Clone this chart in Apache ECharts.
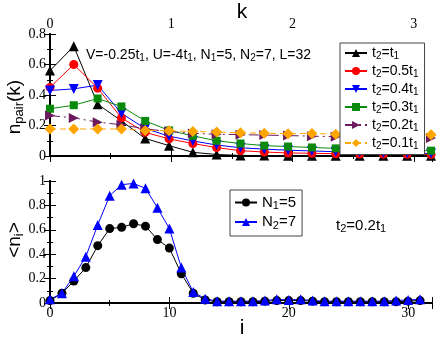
<!DOCTYPE html>
<html>
<head>
<meta charset="utf-8">
<script src="https://cdn.jsdelivr.net/npm/echarts@6/dist/echarts.min.js"></script>
<style>
html, body { margin: 0; padding: 0; background: #fff; }
#chart { width: 436px; height: 338px; }
</style>
</head>
<body>
<div id="chart"></div>
<script>
// k = 2*pi*n/L, L=32
var kPoints = [0, 0.196, 0.393, 0.589, 0.785, 0.982, 1.178, 1.374, 1.571, 1.767, 1.963, 2.160, 2.356, 2.553, 2.749, 2.945, 3.142];
var pairT1 = [0.56, 0.72, 0.34, 0.23, 0.115, 0.068, 0.024, 0.010, 0.004, 0.003, 0.002, 0.002, 0.002, 0.002, 0.002, 0.002, 0.002];
var pairT05 = [0.45, 0.60, 0.445, 0.25, 0.155, 0.112, 0.082, 0.055, 0.035, 0.026, 0.020, 0.018, 0.015, 0.013, 0.012, 0.011, 0.010];
var pairT04 = [0.43, 0.44, 0.465, 0.28, 0.18, 0.13, 0.099, 0.072, 0.054, 0.045, 0.038, 0.033, 0.028, 0.024, 0.020, 0.018, 0.016];
var pairT03 = [0.31, 0.333, 0.377, 0.325, 0.23, 0.168, 0.132, 0.100, 0.082, 0.068, 0.062, 0.056, 0.050, 0.045, 0.040, 0.037, 0.035];
var pairT02 = [0.265, 0.25, 0.222, 0.205, 0.178, 0.160, 0.148, 0.143, 0.140, 0.137, 0.134, 0.130, 0.127, 0.124, 0.122, 0.120, 0.118];
var pairT01 = [0.177, 0.177, 0.177, 0.177, 0.168, 0.165, 0.161, 0.157, 0.152, 0.150, 0.146, 0.148, 0.143, 0.143, 0.143, 0.143, 0.140];

var sites = [0, 1, 2, 3, 4, 5, 6, 7, 8, 9, 10, 11, 12, 13, 14, 15, 16, 17, 18, 19, 20, 21, 22, 23, 24, 25, 26, 27, 28, 29, 30, 31];
var densN1 = [0.02, 0.08, 0.18, 0.29, 0.47, 0.61, 0.62, 0.65, 0.63, 0.52, 0.45, 0.24, 0.08, 0.025, 0.01, 0.01, 0.01, 0.01, 0.015, 0.02, 0.02, 0.02, 0.015, 0.01, 0.01, 0.01, 0.01, 0.01, 0.01, 0.01, 0.015, 0.02];
var densN2 = [0.03, 0.08, 0.22, 0.38, 0.64, 0.88, 0.97, 0.98, 0.94, 0.78, 0.61, 0.29, 0.09, 0.035, 0.015, 0.015, 0.015, 0.015, 0.02, 0.03, 0.025, 0.03, 0.02, 0.015, 0.015, 0.015, 0.015, 0.015, 0.015, 0.02, 0.025, 0.03];

var topTicksK = [0, 1, 2, 3];
var siteTicks = [0, 10, 20, 30];

// "t[2]" -> t with subscript 2
function rt(s) {
    return s.split(/\[([^\]]*)\]/).map(function (p, i) {
        if (p === '') return '';
        return (i % 2 ? '{s|' : '{m|') + p + '}';
    }).join('');
}
function richStyle(size, sub, drop) {
    return {
        m: { fontSize: size, fontFamily: 'Liberation Sans', color: '#000' },
        s: { fontSize: sub, fontFamily: 'Liberation Sans', color: '#000', padding: [drop, 0, 0, 0] }
    };
}

function zip(xs, ys) {
    return ys.map(function (v, i) { return [xs[i], v]; });
}

function pairSeries(name, data, color, symbol, size, rot, dash) {
    return {
        name: name, type: 'line', xAxisIndex: 0, yAxisIndex: 0,
        data: zip(kPoints, data),
        symbol: symbol, symbolSize: size, symbolRotate: rot,
        itemStyle: { color: color },
        lineStyle: { color: color, width: 1, type: dash || 'solid' },
        animation: false
    };
}

function densSeries(name, data, color, symbol, size) {
    return {
        name: name, type: 'line', xAxisIndex: 2, yAxisIndex: 2,
        data: zip(sites, data),
        symbol: symbol, symbolSize: size,
        itemStyle: { color: color },
        lineStyle: { color: color, width: 1 },
        animation: false
    };
}

var axisLine = { show: true, lineStyle: { color: '#000', width: 2 } };
var tickStyle = { show: true, inside: true, length: 6, lineStyle: { color: '#000', width: 1 } };
var minorStyle = { show: true, splitNumber: 2, length: 3, lineStyle: { color: '#000', width: 1 } };

function xAx(grid, pos, max, interval, ticks, labels) {
    return {
        type: 'value', gridIndex: grid, position: pos, min: 0, max: max, interval: interval,
        axisLine: axisLine, axisTick: tickStyle, minorTick: minorStyle,
        splitLine: { show: false },
        axisLabel: {
            show: labels, margin: 3, showMaxLabel: false,
            fontFamily: 'Liberation Serif', fontSize: 14, color: '#000',
            formatter: function (v) { return ticks.indexOf(v) >= 0 ? String(v) : ''; }
        }
    };
}
function yAx(grid, pos, max, labels) {
    return {
        type: 'value', gridIndex: grid, position: pos, min: 0, max: max, interval: 0.2,
        axisLine: axisLine, axisTick: tickStyle, minorTick: minorStyle,
        splitLine: { show: false },
        axisLabel: {
            show: labels, margin: 4,
            fontFamily: 'Liberation Serif', fontSize: 14, color: '#000'
        }
    };
}

var legendNames = {
    't2=t1': rt('t[2]=t[1]'),
    't2=0.5t1': rt('t[2]=0.5t[1]'),
    't2=0.4t1': rt('t[2]=0.4t[1]'),
    't2=0.3t1': rt('t[2]=0.3t[1]'),
    't2=0.2t1': rt('t[2]=0.2t[1]'),
    't2=0.1t1': rt('t[2]=0.1t[1]'),
    'N1=5': rt('N[1]=5'),
    'N2=7': rt('N[2]=7')
};

var myChart = echarts.init(document.getElementById('chart'));
myChart.setOption({
    backgroundColor: '#fff',
    grid: [
        { left: 50, top: 34, width: 382, height: 122, outerBoundsMode: 'none', containLabel: false },
        { left: 50, top: 181, width: 382, height: 122, outerBoundsMode: 'none', containLabel: false }
    ],
    xAxis: [
        xAx(0, 'top', 3.15, 1, topTicksK, true),
        xAx(0, 'bottom', 3.15, 1, topTicksK, false),
        xAx(1, 'bottom', 32, 10, siteTicks, true),
        xAx(1, 'top', 32, 10, siteTicks, false)
    ],
    yAxis: [
        yAx(0, 'left', 0.8, true),
        yAx(0, 'right', 0.8, false),
        yAx(1, 'left', 1, true),
        yAx(1, 'right', 1, false)
    ],
    legend: [
        {
            data: ['t2=t1', 't2=0.5t1', 't2=0.4t1', 't2=0.3t1', 't2=0.2t1', 't2=0.1t1'],
            orient: 'vertical', left: 340, top: 43,
            itemWidth: 22, itemHeight: 10, itemGap: 2.5,
            padding: [3, 6, 3, 4],
            backgroundColor: '#fff', borderColor: '#444', borderWidth: 1, borderRadius: 0,
            formatter: function (n) { return legendNames[n]; },
            textStyle: { rich: richStyle(14, 10, 7) }
        },
        {
            data: ['N1=5', 'N2=7'],
            orient: 'vertical', left: 230, top: 190,
            itemWidth: 22, itemHeight: 10, itemGap: 3,
            padding: [5, 6, 5, 4],
            backgroundColor: '#fff', borderColor: '#444', borderWidth: 1, borderRadius: 0,
            formatter: function (n) { return legendNames[n]; },
            textStyle: { rich: richStyle(15, 11, 7) }
        }
    ],
    graphic: [
        {
            type: 'text', left: 86, top: 48, z: 10,
            style: { text: rt('V=-0.25t[1], U=-4t[1], N[1]=5, N[2]=7, L=32'), rich: richStyle(14, 10, 7) }
        },
        {
            type: 'text', left: 336, top: 218, z: 10,
            style: { text: rt('t[2]=0.2t[1]'), rich: richStyle(15, 11, 7) }
        },
        {
            type: 'text', x: 15, y: 107, rotation: Math.PI / 2, z: 10,
            style: { text: rt('n[pair](k)'), rich: richStyle(19, 13, 8), align: 'center', verticalAlign: 'middle' }
        },
        {
            type: 'text', x: 15, y: 240, rotation: Math.PI / 2, z: 10,
            style: { text: rt('<n[i]>'), rich: richStyle(19, 13, 8), align: 'center', verticalAlign: 'middle' }
        },
        {
            type: 'text', x: 242, y: 12, z: 10,
            style: { text: 'k', fontFamily: 'Liberation Sans', fontSize: 21, fill: '#000', align: 'center', verticalAlign: 'middle' }
        },
        {
            type: 'text', x: 242, y: 328, z: 10,
            style: { text: 'i', fontFamily: 'Liberation Sans', fontSize: 21, fill: '#000', align: 'center', verticalAlign: 'middle' }
        }
    ],
    series: [
        pairSeries('t2=t1', pairT1, '#000000', 'triangle', 10, 0),
        pairSeries('t2=0.5t1', pairT05, '#ff0000', 'circle', 9, 0),
        pairSeries('t2=0.4t1', pairT04, '#0000ff', 'triangle', 10, 180),
        pairSeries('t2=0.3t1', pairT03, '#0a8a0a', 'rect', 8, 0),
        pairSeries('t2=0.2t1', pairT02, '#6b1a5e', 'triangle', 10, -90, [10, 4, 2, 4]),
        pairSeries('t2=0.1t1', pairT01, '#ffa500', 'diamond', 11, 0, [6, 4]),
        densSeries('N1=5', densN1, '#000000', 'circle', 9),
        densSeries('N2=7', densN2, '#0000ff', 'triangle', 10)
    ]
});
</script>
</body>
</html>
